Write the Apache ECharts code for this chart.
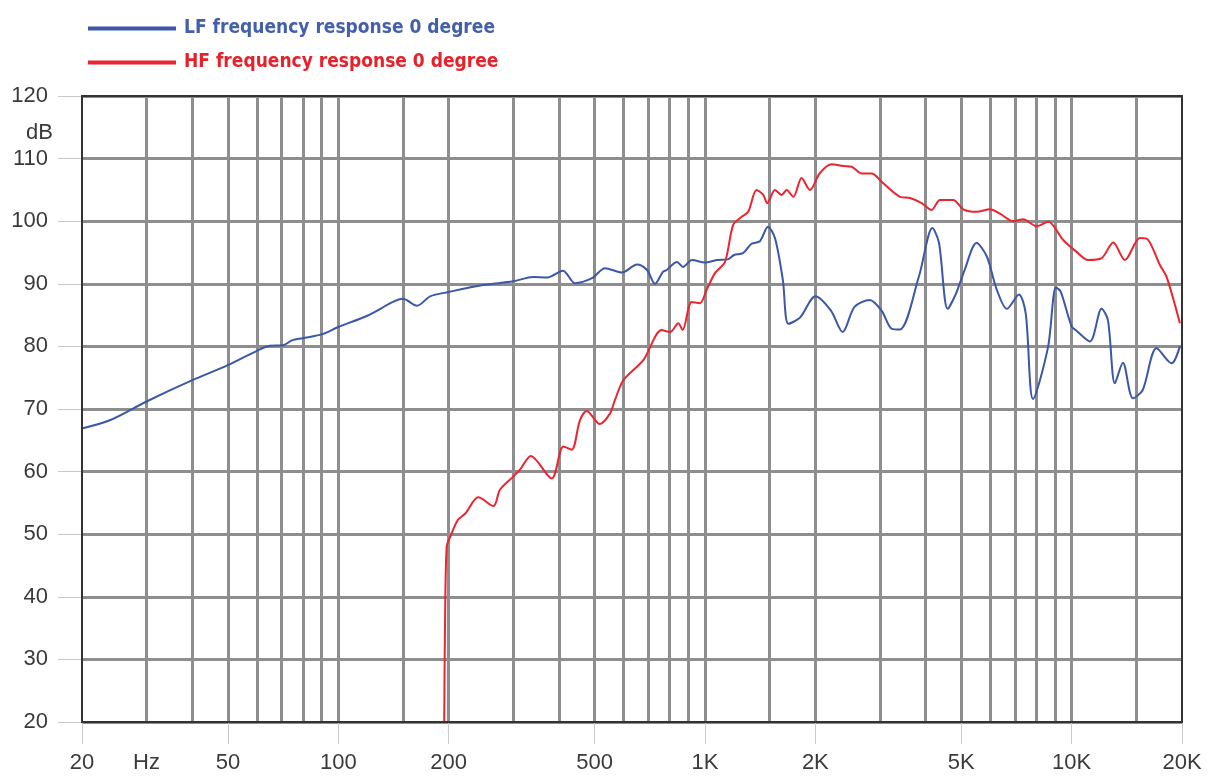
<!DOCTYPE html>
<html>
<head>
<meta charset="utf-8">
<script src="https://cdn.jsdelivr.net/npm/echarts@6/dist/echarts.min.js"></script>
<style>
  html, body { margin: 0; padding: 0; background: #fff; }
  #chart { width: 1215px; height: 783px; }
</style>
</head>
<body>
<div id="chart"></div>
<script>
const LF_NAME = "LF frequency response 0 degree";
const HF_NAME = "HF frequency response 0 degree";

// LF curve (Hz, dB)
const LF_FREQ = [20, 23.8, 30, 40, 50, 60, 65, 70.7, 75, 80, 91, 100, 120, 141, 150, 164, 178, 200,
  248, 300, 340, 371, 410, 442, 492, 534, 594, 653, 695, 731, 768, 786, 839, 871, 922, 1000,
  1078, 1155, 1200, 1270, 1340, 1412, 1485, 1552, 1631, 1689, 1816, 2002, 2206, 2374, 2558,
  2814, 3032, 3234, 3402, 3834, 4172, 4346, 4592, 4834, 5106, 5504, 5868, 6256, 6662, 7184,
  7498, 7846, 8618, 9062, 9332, 9998, 10312, 11218, 12072, 12560, 13124, 13800, 14696, 15616,
  17050, 18740, 19736];
const LF_DB = [66.9, 68.2, 71.2, 74.6, 77.0, 79.3, 80.1, 80.2, 81.0, 81.3, 82.0, 83.1, 84.9, 87.1, 87.6, 86.5, 88.0, 88.7,
  89.8, 90.4, 91.1, 91.0, 92.1, 90.1, 90.9, 92.5, 91.8, 93.1, 92.2, 90.0, 91.9, 92.2, 93.5, 92.7, 93.8, 93.4,
  93.8, 93.9, 94.6, 94.9, 96.4, 96.8, 99.1, 97.3, 90.6, 83.6, 84.6, 88.0, 85.7, 82.3, 86.3,
  87.4, 85.7, 82.8, 82.7, 91.2, 98.9, 96.6, 86.0, 88.4, 92.2, 96.5, 94.4, 89.0, 86.0, 88.3,
  85.2, 71.6, 79.8, 89.4, 88.8, 83.2, 82.5, 80.8, 86.0, 84.2, 74.1, 77.4, 71.7, 73.0,
  79.7, 77.3, 80.0];

// HF curve (Hz, dB)
const HF_FREQ = [194.5, 195.4, 197.5, 202, 212, 222, 241, 265, 276, 300, 313, 335, 382, 411, 433,
  456, 476, 517, 551, 568, 599, 679, 762, 803, 846, 869, 920, 969, 1010, 1065, 1134, 1194,
  1259, 1312, 1383, 1442, 1479, 1552, 1619, 1670, 1741, 1835, 1933, 2058, 2216, 2384, 2512,
  2676, 2849, 3032, 3402, 3622, 3898, 4152, 4374, 4754, 5062, 5508, 5988, 6374, 6930, 7380,
  8028, 8632, 9484, 10320, 11100, 12072, 12984, 13974, 15356, 16178, 17406, 18156, 19736];
const HF_DB = [20, 34.7, 48.0, 49.6, 52.3, 53.3, 55.9, 54.5, 57.1, 59.2, 60.3, 62.5, 58.9, 64.0, 63.5,
  68.2, 69.7, 67.6, 69.3, 71.4, 74.6, 77.8, 82.6, 82.3, 83.7, 82.6, 87.1, 86.9, 89.0, 91.7, 93.5, 99.4,
  100.7, 101.5, 105.0, 104.2, 102.9, 105.0, 104.2, 105.0, 103.9, 106.9, 105.0, 107.7, 109.1, 108.8, 108.7,
  107.6, 107.6, 106.3, 103.9, 103.7, 102.9, 101.8, 103.4, 103.4, 101.9, 101.5, 101.9, 101.2, 100.0, 100.3,
  99.2, 99.9, 97.0, 95.1, 93.8, 94.1, 96.6, 93.8, 97.3, 97.0, 93.0, 91.1, 83.7];

// axis furniture
const GRID_FREQS = [30, 40, 50, 60, 70, 80, 90, 100, 150, 200, 300, 400, 500, 600, 700, 800, 900,
  1000, 1500, 2000, 3000, 4000, 5000, 6000, 7000, 8000, 9000, 10000, 15000];
const LABEL_FREQS = [20, 30, 50, 100, 200, 500, 1000, 2000, 5000, 10000, 20000];
const LABEL_TEXTS = ["20", "Hz", "50", "100", "200", "500", "1K", "2K", "5K", "10K", "20K"];
const TICK_FREQS = [20, 50, 100, 200, 500, 1000, 2000, 5000, 10000, 20000];

const F_MIN = 20, F_MAX = 20000;
const BLUE = "#3a57a8";
const RED = "#ec2430";
const GRID_GRAY = "#8e8e8e";
const FONT = "Liberation Sans";
const NARROW = '"Liberation Sans Narrow", "DejaVu Sans Condensed", "Liberation Sans", sans-serif';

const lg = Math.log10;
const chart = echarts.init(document.getElementById("chart"));

function pairs(fs, ds) {
  return fs.map((f, i) => [f, ds[i]]);
}

function labelFor(v) {
  let best = 0;
  LABEL_FREQS.forEach((f, i) => {
    if (Math.abs(lg(f) - v) < Math.abs(lg(LABEL_FREQS[best]) - v)) best = i;
  });
  return LABEL_TEXTS[best];
}

const logAxisBase = {
  type: "value",
  min: lg(F_MIN),
  max: lg(F_MAX),
  gridIndex: 0,
  position: "bottom",
  axisLine: { show: false },
  splitLine: { show: false }
};

chart.setOption({
  animation: false,
  backgroundColor: "#fff",
  title: {
    text: "dB",
    left: 21,
    top: 117,
    textStyle: { fontFamily: FONT, fontSize: 22, fontWeight: "normal", color: "#3a3a3a" }
  },
  legend: {
    orient: "vertical",
    left: 83,
    top: 14,
    icon: "rect",
    itemWidth: 88,
    itemHeight: 4,
    itemGap: 15,
    textStyle: {
      fontFamily: NARROW,
      fontSize: 19,
      fontWeight: "bold",
      padding: [0, 0, 0, 3]
    },
    data: [
      { name: LF_NAME, textStyle: { color: "#4560ab" } },
      { name: HF_NAME, textStyle: { color: "#e5222b" } }
    ]
  },
  grid: {
    left: 82,
    top: 96,
    width: 1100,
    height: 626,
    show: true,
    borderColor: "#333",
    borderWidth: 2,
    z: 10
  },
  xAxis: [
    {
      // the log scale the curves are drawn on
      type: "log",
      logBase: 10,
      min: F_MIN,
      max: F_MAX,
      show: false
    },
    Object.assign({}, logAxisBase, {
      axisTick: {
        show: true,
        customValues: TICK_FREQS.map(lg),
        length: 22,
        lineStyle: { color: "#c8c8c8", width: 1 }
      },
      axisLabel: {
        customValues: LABEL_FREQS.map(lg),
        formatter: labelFor,
        margin: 30,
        fontFamily: FONT,
        fontSize: 22,
        color: "#3a3a3a",
        showMinLabel: true,
        showMaxLabel: true
      }
    }),
    Object.assign({}, logAxisBase, {
      // vertical grid lines
      axisLabel: { show: false },
      axisTick: {
        show: true,
        inside: true,
        customValues: GRID_FREQS.map(lg),
        length: 626,
        lineStyle: { color: GRID_GRAY, width: 3 }
      }
    })
  ],
  yAxis: {
    type: "value",
    min: 20,
    max: 120,
    interval: 10,
    axisLine: { show: false },
    axisTick: { show: true, length: 24, lineStyle: { color: "#c8c8c8", width: 1 } },
    axisLabel: { margin: 34, fontFamily: FONT, fontSize: 22, color: "#3a3a3a" },
    splitLine: { show: true, lineStyle: { color: GRID_GRAY, width: 3 } }
  },
  series: [
    {
      name: LF_NAME,
      type: "line",
      xAxisIndex: 0,
      data: pairs(LF_FREQ, LF_DB),
      showSymbol: false,
      smooth: 0.3,
      color: BLUE,
      lineStyle: { width: 2, color: BLUE },
      z: 3
    },
    {
      name: HF_NAME,
      type: "line",
      xAxisIndex: 0,
      data: pairs(HF_FREQ, HF_DB),
      showSymbol: false,
      smooth: 0.3,
      color: RED,
      lineStyle: { width: 2, color: RED },
      z: 4
    }
  ]
});
</script>
</body>
</html>
